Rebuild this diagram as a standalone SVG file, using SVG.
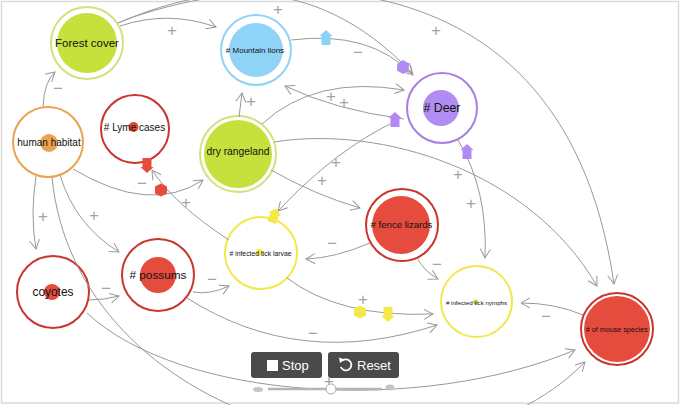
<svg xmlns="http://www.w3.org/2000/svg" xmlns:xlink="http://www.w3.org/1999/xlink" width="680" height="405" viewBox="0 0 680 405">
<style>
.ring{fill:#fff;stroke-width:2}
.lbl{font-family:"Liberation Sans",Arial,sans-serif;fill:#111;text-anchor:middle}
.c{fill:none;stroke:#999;stroke-width:1;marker-end:url(#ah)}
.sg text{font-family:"Liberation Sans",Arial,sans-serif;font-size:17px;fill:#a3a3a3;text-anchor:middle}
.red{stroke:#c8362e}
.btn{fill:#4a4a4a}
.bt{font-family:"Liberation Sans",Arial,sans-serif;font-size:13px;fill:#fff}
</style>
<defs>
<marker id="ah" viewBox="-10 -7 12 14" refX="0" refY="0" markerWidth="12" markerHeight="14" markerUnits="userSpaceOnUse" orient="auto">
<path d="M-9,-5 L0,0 L-9,5" fill="none" stroke="#999" stroke-width="1"/>
</marker>
<path id="up" d="M0,-8 L6.5,-2 L4.5,-2 L4.5,7 L-4.5,7 L-4.5,-2 L-6.5,-2 Z"/>
<path id="hex" d="M-6.5,0 L-3.5,-6 L3.5,-6 L6.5,0 L3.5,6 L-3.5,6 Z"/>
</defs>
<rect x="0" y="0" width="680" height="405" fill="#fff"/>
<rect x="1.5" y="1.5" width="677" height="401.5" fill="none" stroke="#dadada" stroke-width="1.5"/>

<g id="nodes">
<g id="forest-cover"><circle class="ring" cx="87" cy="43" r="36" stroke="#cde37e"/><circle cx="87" cy="43" r="30" fill="#c6e03c"/><text class="lbl" x="87" y="47" font-size="11.5">Forest cover</text></g>
<g id="human-habitat"><circle class="ring" cx="48" cy="142" r="35" stroke="#eba24f"/><circle cx="49" cy="143" r="9" fill="#eba24f"/><text class="lbl" x="49" y="146" font-size="10">human habitat</text></g>
<g id="lyme-cases"><circle class="ring red" cx="135" cy="129" r="34"/><circle cx="133.5" cy="127" r="5" fill="#e14b3b"/><text class="lbl" x="134.5" y="130.5" font-size="10">&#35; Lyme cases</text></g>
<g id="mountain-lions"><circle class="ring" cx="256" cy="50" r="35" stroke="#8fd4f5"/><circle cx="256" cy="50" r="27" fill="#8fd3f7"/><text class="lbl" x="255" y="53" font-size="8">&#35; Mountain lions</text></g>
<g id="dry-rangeland"><circle class="ring" cx="238" cy="154" r="38" stroke="#cde37e"/><circle cx="238" cy="154" r="34" fill="#c6e03c"/><text class="lbl" x="238" y="155" font-size="10.3">dry rangeland</text></g>
<g id="deer"><circle class="ring" cx="442" cy="108" r="35" stroke="#a67fe2"/><circle cx="441" cy="108" r="18" fill="#b18cf2"/><text class="lbl" x="442" y="112" font-size="12.3">&#35; Deer</text></g>
<g id="fence-lizards"><circle class="ring red" cx="402" cy="225" r="36"/><circle cx="401" cy="225" r="29" fill="#e64c3d"/><text class="lbl" x="401.5" y="227.5" font-size="9.6">&#35; fence lizards</text></g>
<g id="tick-larvae"><circle class="ring" cx="261" cy="253" r="36" stroke="#f3e74a"/><circle cx="259.5" cy="252.5" r="3.5" fill="#f3e74a"/><text class="lbl" x="260.5" y="255.5" font-size="6.8">&#35; infected tick larvae</text></g>
<g id="tick-nymphs"><circle class="ring" cx="476.5" cy="301.5" r="35.5" stroke="#f3e74a"/><circle cx="475.5" cy="302" r="2.5" fill="#d4d24a"/><text class="lbl" x="476.5" y="304.5" font-size="6.2">&#35; infected tick nymphs</text></g>
<g id="mouse-species"><circle class="ring red" cx="617" cy="329" r="36"/><circle cx="617" cy="329" r="33" fill="#e64c3d"/><text class="lbl" x="616.7" y="332" font-size="7.2">&#35; of mouse species</text></g>
<g id="possums"><circle class="ring red" cx="158" cy="275" r="36"/><circle cx="158" cy="275" r="18" fill="#e64c3d"/><text class="lbl" x="158" y="279" font-size="11.8">&#35; possums</text></g>
<g id="coyotes"><circle class="ring red" cx="53" cy="292" r="36"/><circle cx="52" cy="292" r="8" fill="#e64c3d"/><text class="lbl" x="53" y="296" font-size="11.9">coyotes</text></g>
</g>

<g id="connectors">
<path class="c" d="M43,107 Q44,82 55,72"/>
<path class="c" d="M120,26 Q168,10 216,27"/>
<path class="c" d="M118,23 C200,-12 310,-35 412,73"/>
<path class="c" d="M118,23 C205,-14 560,-90 614,284"/>
<path class="c" d="M291,40 Q370,30 413,75"/>
<path class="c" d="M239,117 L242,93"/>
<path class="c" d="M262,124 Q315,75 404,90"/>
<path class="c" d="M404,119 Q335,110 285,86"/>
<path class="c" d="M274,142 C380,125 530,170 597,286"/>
<path class="c" d="M271,170 Q315,195 360,208"/>
<path class="c" d="M396,121 Q335,150 278,211"/>
<path class="c" d="M73,169 Q150,215 203,180"/>
<path class="c" d="M229,240 Q175,205 152,170"/>
<path class="c" d="M36,176 Q30,215 36,249"/>
<path class="c" d="M60,175 Q75,225 119,252"/>
<path class="c" d="M52,177 C75,420 430,520 585,362"/>
<path class="c" d="M89,300 Q104,300 119,296"/>
<path class="c" d="M193,292 Q210,295 229,286"/>
<path class="c" d="M370,243 Q335,258 306,259"/>
<path class="c" d="M417,258 Q425,272 438,279"/>
<path class="c" d="M287,278 Q340,318 433,314"/>
<path class="c" d="M187,298 Q300,370 437,325"/>
<path class="c" d="M583,315 Q555,303 521,303"/>
<path class="c" d="M458,140 Q488,190 485,258"/>
<path class="c" d="M87,313 C180,400 420,415 575,350"/>
<g id="signs" class="sg">
<text x="58" y="94">−</text>
<text x="172" y="36">+</text>
<text x="278" y="15">+</text>
<text x="436" y="36">+</text>
<text x="358" y="58">−</text>
<text x="251" y="107">+</text>
<text x="331" y="102">+</text>
<text x="344" y="108">+</text>
<text x="142" y="189">−</text>
<text x="186" y="208">+</text>
<text x="43" y="222">+</text>
<text x="94" y="221">+</text>
<text x="106" y="294">−</text>
<text x="212" y="285">−</text>
<text x="332" y="249">−</text>
<text x="437" y="270">−</text>
<text x="363" y="305">+</text>
<text x="313" y="339">−</text>
<text x="546" y="322">−</text>
<text x="458" y="180">+</text>
<text x="471" y="209">+</text>
<text x="336" y="168">+</text>
<text x="322" y="186">+</text>
<text x="329" y="387">+</text>
</g>
<g id="flows">
<use xlink:href="#up" transform="translate(326,38)" fill="#8dd3f5"/>
<use xlink:href="#hex" transform="translate(403,67) rotate(30)" fill="#b08af2"/>
<use xlink:href="#up" transform="translate(395,120)" fill="#b08af2"/>
<use xlink:href="#up" transform="translate(467,152)" fill="#b08af2"/>
<use xlink:href="#up" transform="translate(147,165) rotate(180)" fill="#e64c3d"/>
<use xlink:href="#hex" transform="translate(161,190) rotate(90)" fill="#e64c3d"/>
<use xlink:href="#up" transform="translate(274,216) rotate(20)" fill="#f5e94a"/>
<use xlink:href="#hex" transform="translate(360,312) rotate(90)" fill="#f5e94a"/>
<use xlink:href="#up" transform="translate(388,314) rotate(180)" fill="#f5e94a"/>
</g>
</g>

<g id="controls">
<rect class="btn" x="251" y="352" width="71" height="26" rx="3"/>
<rect x="267" y="360" width="11" height="11" fill="#fff"/>
<text class="bt" x="282" y="370">Stop</text>
<rect class="btn" x="328" y="352" width="71" height="26" rx="3"/>
<path d="M342.5,360.5 A5.5,5.5 0 1 1 340.8,367" fill="none" stroke="#fff" stroke-width="1.8"/>
<path d="M339,357.5 L344.5,359.5 L340,363 Z" fill="#fff"/>
<text class="bt" x="357" y="370">Reset</text>
<line x1="268" y1="389" x2="382" y2="389" stroke="#b5b5b5" stroke-width="2.5"/>
<circle cx="331" cy="389" r="5" fill="#fff" stroke="#aaa" stroke-width="1"/>
<ellipse cx="258" cy="389.5" rx="5" ry="2.5" fill="#c4c4c4"/>
<ellipse cx="390" cy="387.5" rx="4.5" ry="3" fill="#c4c4c4"/>
</g>
</svg>
